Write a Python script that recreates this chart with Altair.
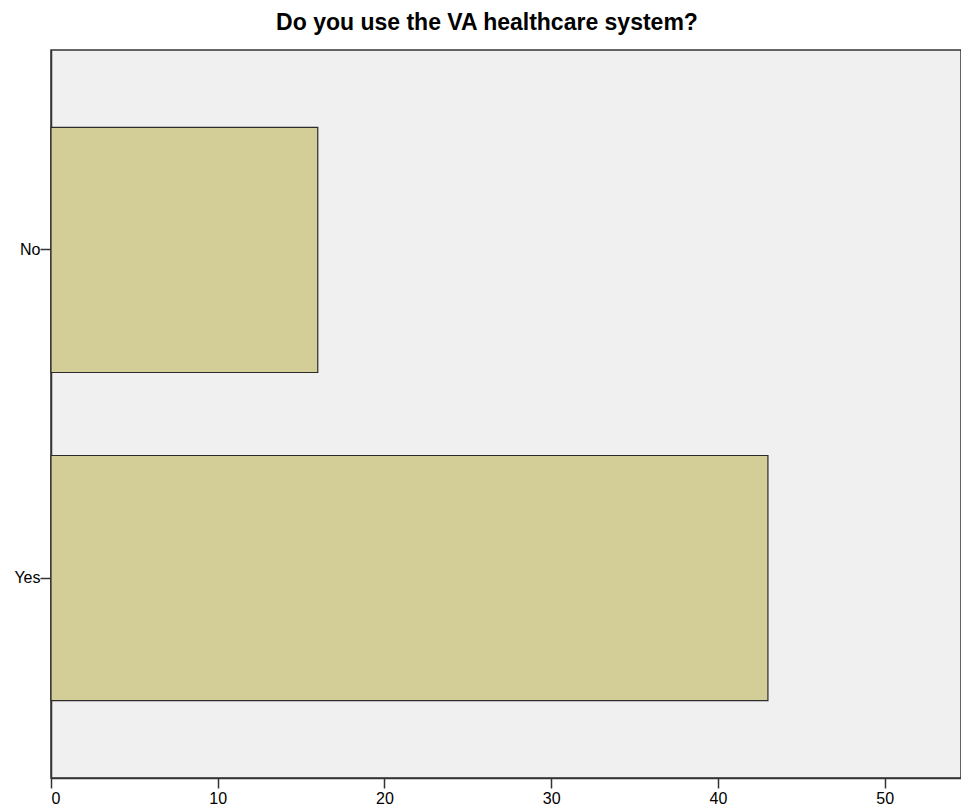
import altair as alt
import pandas as pd

answers = ["No", "Yes"]
counts = [16, 43]
x_ticks = [0, 10, 20, 30, 40, 50]

df = pd.DataFrame({"answer": answers, "count": counts})

font = "Liberation Sans"

chart = alt.Chart(df).mark_bar(
    color="#d3ce97", stroke="#2b2b2b", strokeWidth=1.2
).encode(
    x=alt.X(
        "count:Q",
        scale=alt.Scale(domain=[0, 54.58], nice=False, zero=True),
        axis=alt.Axis(
            values=x_ticks, grid=False, title=None, tickSize=10,
            domainColor="#333333", tickColor="#333333", domainWidth=1.5,
            tickWidth=1.5,
            labelFont=font, labelFontSize=16, labelColor="#000000",
            labelPadding=2,
        ),
    ),
    y=alt.Y(
        "answer:N",
        sort=answers,
        scale=alt.Scale(paddingInner=0.253, paddingOuter=0.236),
        axis=alt.Axis(
            title=None, tickSize=11, domainColor="#333333", tickColor="#333333",
            domainWidth=1.5, tickWidth=1.5, labelFont=font, labelFontSize=16,
            labelColor="#000000", labelPadding=0,
        ),
    ),
).properties(
    width=910,
    height=728,
    background="#ffffff",
    autosize=alt.AutoSizeParams(type="none"),
    title=alt.TitleParams(
        "Do you use the VA healthcare system?",
        font=font, fontSize=23, fontWeight="bold", color="#000000",
        anchor="middle", dx=-19, offset=15,
    ),
    padding={"left": 43, "top": 42, "right": 0, "bottom": 28},
).configure_view(
    fill="#f0f0f0", stroke="#333333", strokeWidth=1.5
)

chart.save("out.html", embed_options={"renderer": "svg", "actions": False})
